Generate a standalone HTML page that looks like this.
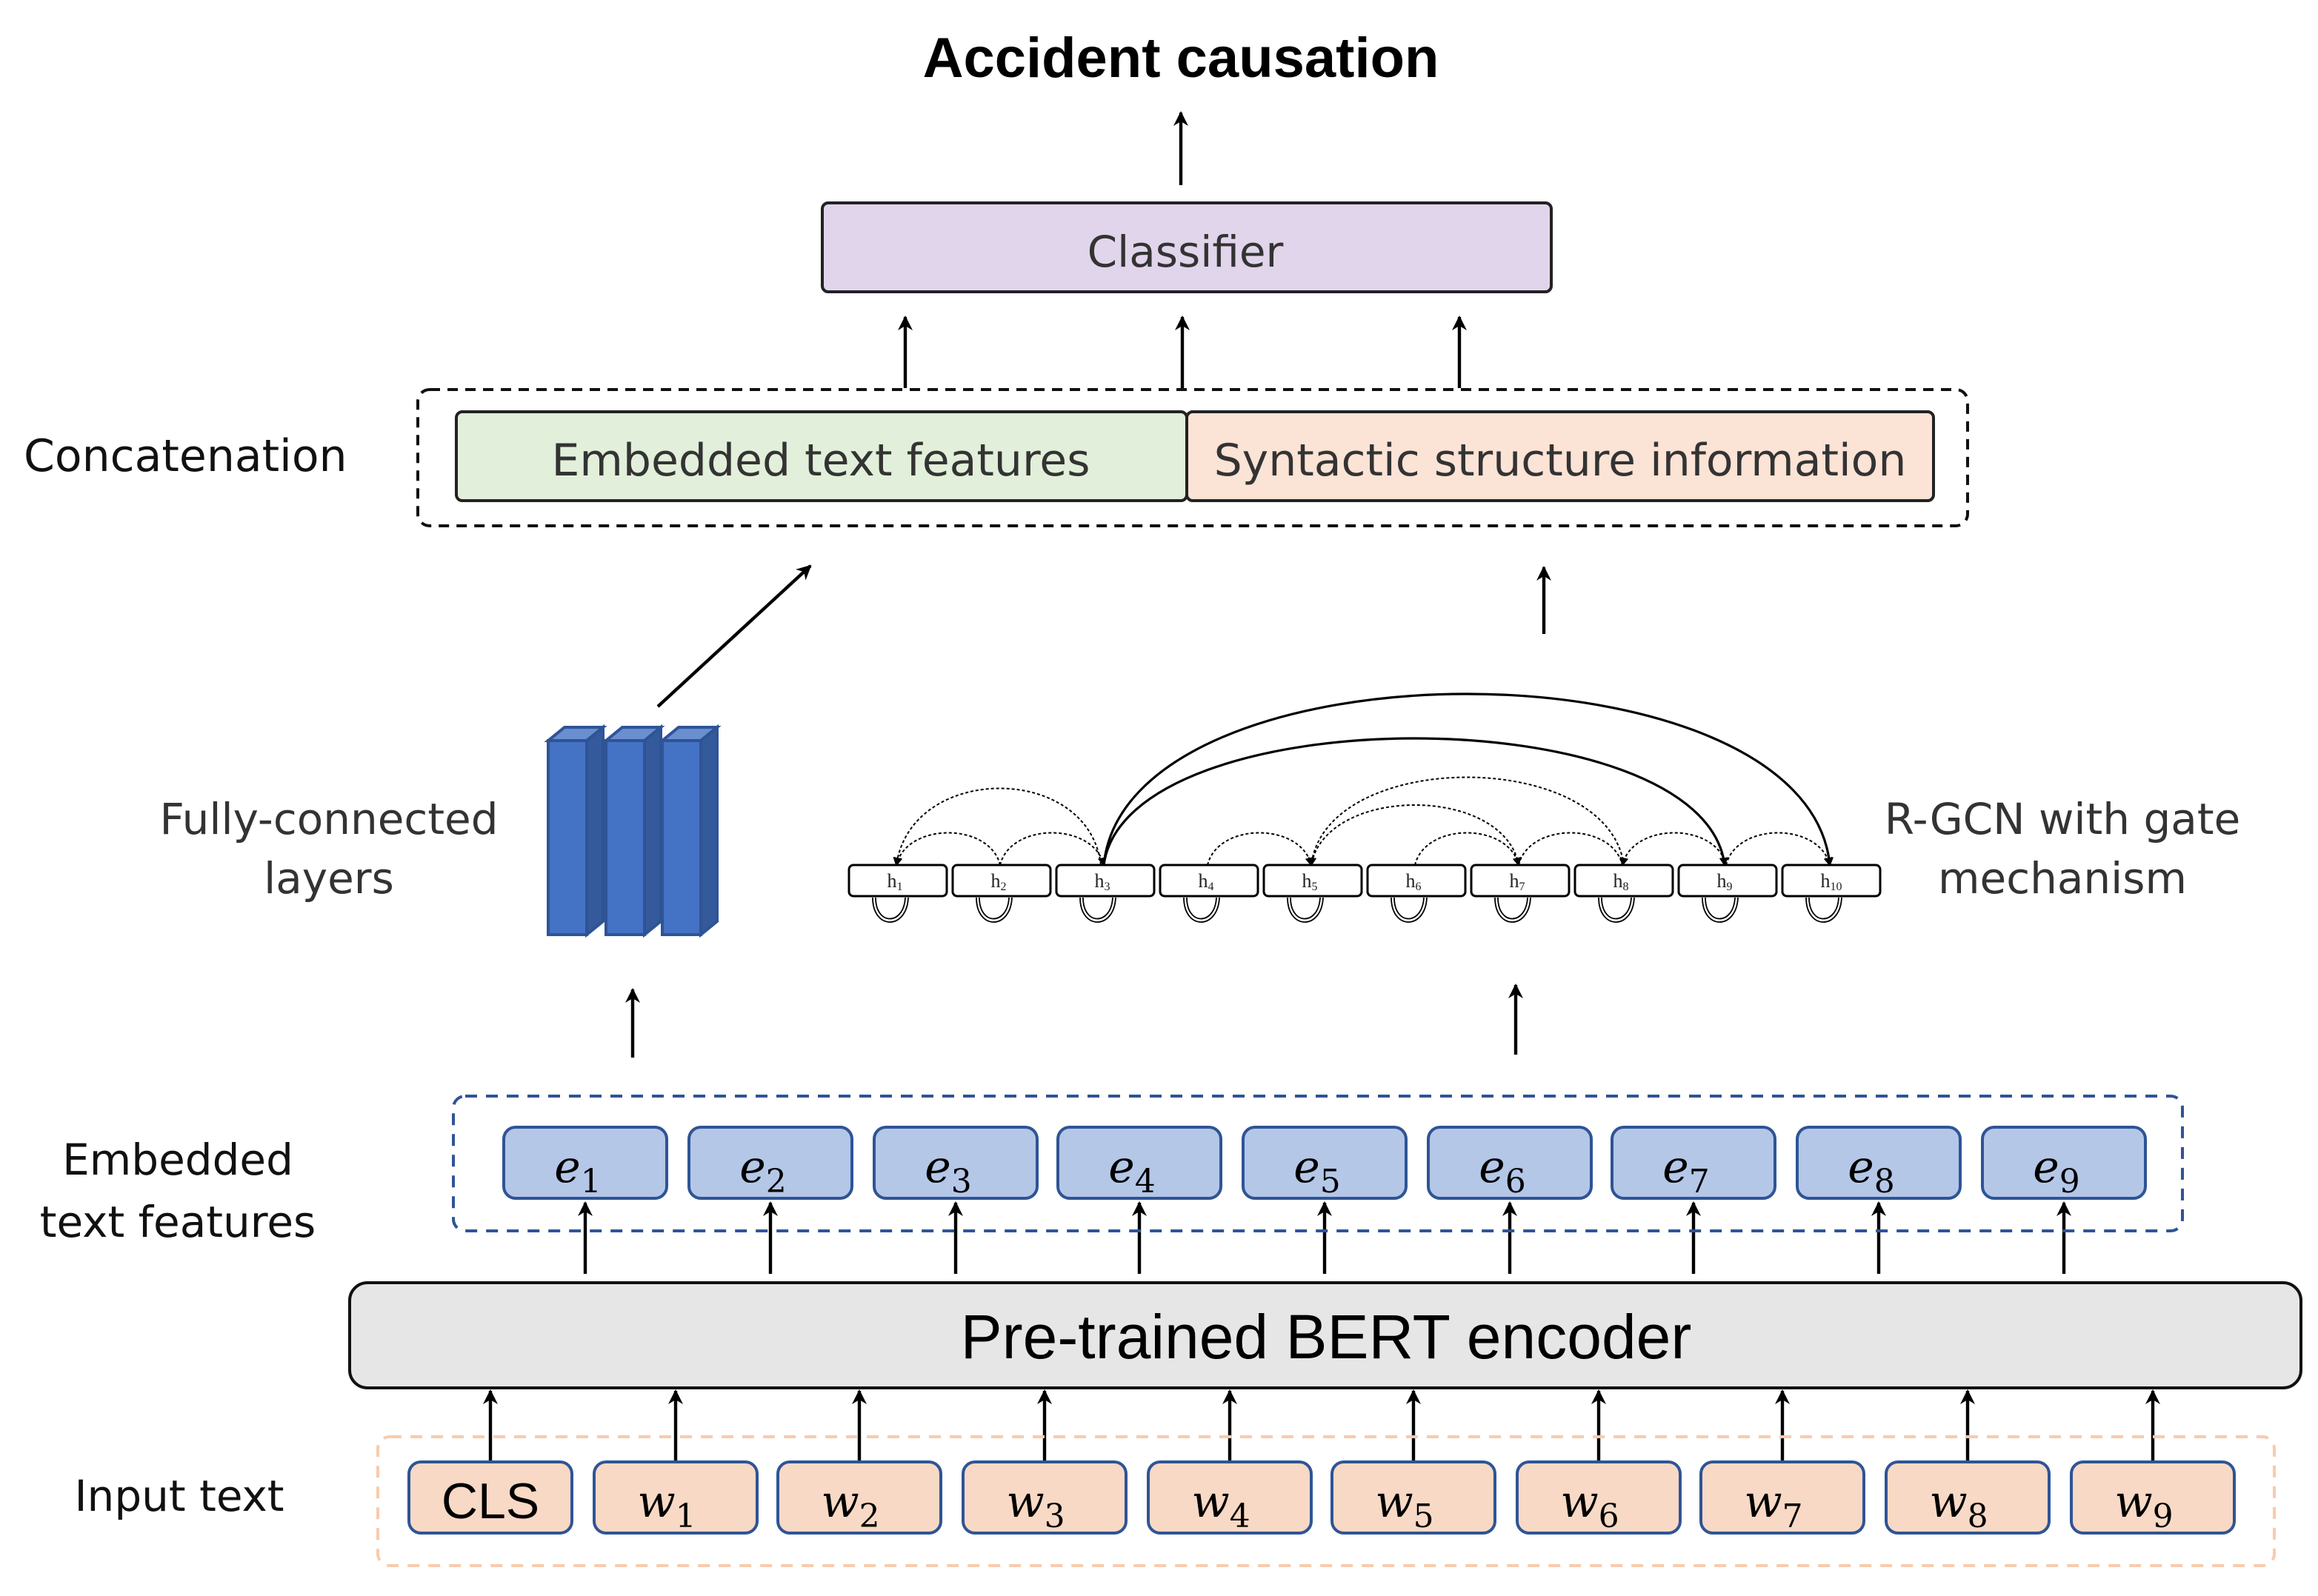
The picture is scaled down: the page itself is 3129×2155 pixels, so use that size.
<!DOCTYPE html>
<html><head><meta charset="utf-8"><style>html,body{margin:0;padding:0;background:#fff}svg{display:block}</style></head>
<body>
<svg width="3129" height="2155" viewBox="0 0 1564.5 1077.5" xmlns="http://www.w3.org/2000/svg" font-family="Liberation Sans, sans-serif">
<defs>
<marker id="a" markerWidth="10" markerHeight="10" refX="9" refY="5" orient="auto" markerUnits="userSpaceOnUse"><path d="M0,0 L10,5 L0,10 L3,5 z" fill="#000"/></marker>
<marker id="s" markerWidth="6" markerHeight="6" refX="5" refY="3" orient="auto" markerUnits="userSpaceOnUse"><path d="M0,0 L6,3 L0,6 z" fill="#000"/></marker>
</defs>
<g stroke="#000" stroke-width="2.2" marker-end="url(#a)" fill="none">
<line x1="797" y1="125" x2="797" y2="76"/>
<line x1="611" y1="262" x2="611" y2="214"/>
<line x1="798" y1="262" x2="798" y2="214"/>
<line x1="985" y1="262" x2="985" y2="214"/>
<line x1="444" y1="477" x2="547" y2="382"/>
<line x1="1042" y1="428" x2="1042" y2="383"/>
<line x1="427" y1="714" x2="427" y2="668"/>
<line x1="1023" y1="712" x2="1023" y2="665"/>
<line x1="395" y1="860" x2="395" y2="812"/><line x1="520" y1="860" x2="520" y2="812"/><line x1="645" y1="860" x2="645" y2="812"/><line x1="769" y1="860" x2="769" y2="812"/><line x1="894" y1="860" x2="894" y2="812"/><line x1="1019" y1="860" x2="1019" y2="812"/><line x1="1143" y1="860" x2="1143" y2="812"/><line x1="1268" y1="860" x2="1268" y2="812"/><line x1="1393" y1="860" x2="1393" y2="812"/>
<line x1="331" y1="987" x2="331" y2="939"/><line x1="456" y1="987" x2="456" y2="939"/><line x1="580" y1="987" x2="580" y2="939"/><line x1="705" y1="987" x2="705" y2="939"/><line x1="830" y1="987" x2="830" y2="939"/><line x1="954" y1="987" x2="954" y2="939"/><line x1="1079" y1="987" x2="1079" y2="939"/><line x1="1203" y1="987" x2="1203" y2="939"/><line x1="1328" y1="987" x2="1328" y2="939"/><line x1="1453" y1="987" x2="1453" y2="939"/>
</g>
<text x="797" y="52" font-size="38" font-weight="bold" text-anchor="middle">Accident causation</text>
<rect x="555" y="137" width="492" height="60" rx="4" fill="#e1d5eb" stroke="#222" stroke-width="2"/>
<text x="800" y="180" font-size="29" fill="#333" text-anchor="middle" font-family="DejaVu Sans, sans-serif">Classifier</text>
<rect x="282" y="263" width="1046" height="92" rx="8" fill="none" stroke="#111" stroke-width="2" stroke-dasharray="7,5"/>
<rect x="308" y="278" width="493" height="60" rx="4" fill="#e2efda" stroke="#222" stroke-width="2"/>
<rect x="801" y="278" width="504" height="60" rx="4" fill="#fbe3d6" stroke="#222" stroke-width="2"/>
<text x="554" y="321" font-size="30" fill="#333" text-anchor="middle" font-family="DejaVu Sans, sans-serif">Embedded text features</text>
<text x="1053" y="321" font-size="30" fill="#333" text-anchor="middle" font-family="DejaVu Sans, sans-serif">Syntactic structure information</text>
<text x="16" y="318" font-size="30" fill="#111" font-family="DejaVu Sans, sans-serif">Concatenation</text>
<g font-size="29" fill="#333" text-anchor="middle" font-family="DejaVu Sans, sans-serif">
<text x="222" y="563">Fully-connected</text><text x="222" y="603">layers</text>
<text x="1392" y="563">R-GCN with gate</text><text x="1392" y="603">mechanism</text>
</g>
<g stroke="#2f5496" stroke-width="2">
<g><polygon points="370,500 381,491 407,491 396,500" fill="#6a8fd0"/><polygon points="396,500 407,491 407,622 396,631" fill="#345a9c"/><rect x="370" y="500" width="26" height="131" fill="#4472c4"/></g>
<g><polygon points="409,500 420,491 446,491 435,500" fill="#6a8fd0"/><polygon points="435,500 446,491 446,622 435,631" fill="#345a9c"/><rect x="409" y="500" width="26" height="131" fill="#4472c4"/></g>
<g><polygon points="447,500 458,491 484,491 473,500" fill="#6a8fd0"/><polygon points="473,500 484,491 484,622 473,631" fill="#345a9c"/><rect x="447" y="500" width="26" height="131" fill="#4472c4"/></g>
</g>
<g fill="none" stroke="#000">
<path d="M745,584 C760,430 1220,430 1235,584" stroke-width="1.6" marker-end="url(#s)"/>
<path d="M745,584 C760,470 1150,470 1164,584" stroke-width="1.6" marker-end="url(#s)"/>
<g stroke-width="1" stroke-dasharray="2,1.5">
<path d="M743,584 C735,515 615,515 605,584" marker-end="url(#s)"/>
<path d="M675,584 C668,555 612,555 605,584" marker-end="url(#s)"/>
<path d="M675,584 C682,555 738,555 745,584" marker-end="url(#s)"/>
<path d="M815,584 C822,555 878,555 885,584" marker-end="url(#s)"/>
<path d="M1096,584 C1085,505 895,505 885,584" marker-end="url(#s)"/>
<path d="M955,584 C962,555 1018,555 1025,584" marker-end="url(#s)"/>
<path d="M1025,584 C1015,530 895,530 885,584" />
<path d="M1025,584 C1032,555 1088,555 1095,584" />
<path d="M1165,584 C1158,555 1102,555 1095,584" marker-end="url(#s)"/>
<path d="M1165,584 C1172,555 1228,555 1235,584" marker-end="url(#s)"/>
</g>
</g>
<g stroke="#000" stroke-width="1.5" fill="#fff">
<rect x="573" y="584" width="66" height="21" rx="3"/><rect x="643" y="584" width="66" height="21" rx="3"/><rect x="713" y="584" width="66" height="21" rx="3"/><rect x="783" y="584" width="66" height="21" rx="3"/><rect x="853" y="584" width="66" height="21" rx="3"/><rect x="923" y="584" width="66" height="21" rx="3"/><rect x="993" y="584" width="66" height="21" rx="3"/><rect x="1063" y="584" width="66" height="21" rx="3"/><rect x="1133" y="584" width="66" height="21" rx="3"/><rect x="1203" y="584" width="66" height="21" rx="3"/>
</g>
<g font-family="Liberation Serif, serif" font-size="13" fill="#222" text-anchor="middle">
<text x="604" y="599">h<tspan font-size="8" dy="2">1</tspan></text><text x="674" y="599">h<tspan font-size="8" dy="2">2</tspan></text><text x="744" y="599">h<tspan font-size="8" dy="2">3</tspan></text><text x="814" y="599">h<tspan font-size="8" dy="2">4</tspan></text><text x="884" y="599">h<tspan font-size="8" dy="2">5</tspan></text><text x="954" y="599">h<tspan font-size="8" dy="2">6</tspan></text><text x="1024" y="599">h<tspan font-size="8" dy="2">7</tspan></text><text x="1094" y="599">h<tspan font-size="8" dy="2">8</tspan></text><text x="1164" y="599">h<tspan font-size="8" dy="2">9</tspan></text><text x="1236" y="599">h<tspan font-size="8" dy="2">10</tspan></text>
</g>
<g fill="none" stroke="#000" stroke-width="0.9">
<path id="l" d="M589,606 C589,628 612,628 613,606 M591,606 C591,625 610,625 611,606"/>
<use href="#l" x="70"/><use href="#l" x="140"/><use href="#l" x="210"/><use href="#l" x="280"/><use href="#l" x="350"/><use href="#l" x="420"/><use href="#l" x="490"/><use href="#l" x="560"/><use href="#l" x="630"/>
</g>
<rect x="306" y="740" width="1167" height="91" rx="8" fill="none" stroke="#2f5496" stroke-width="2" stroke-dasharray="8,6"/>
<g fill="#b4c7e7" stroke="#2f5496" stroke-width="2">
<rect x="340" y="761" width="110" height="48" rx="8"/><rect x="465" y="761" width="110" height="48" rx="8"/><rect x="590" y="761" width="110" height="48" rx="8"/><rect x="714" y="761" width="110" height="48" rx="8"/><rect x="839" y="761" width="110" height="48" rx="8"/><rect x="964" y="761" width="110" height="48" rx="8"/><rect x="1088" y="761" width="110" height="48" rx="8"/><rect x="1213" y="761" width="110" height="48" rx="8"/><rect x="1338" y="761" width="110" height="48" rx="8"/>
</g>
<g font-family="DejaVu Serif, serif" font-style="italic" font-size="30" fill="#000" text-anchor="middle">
<text x="390" y="798">e<tspan font-style="normal" font-size="22" dy="7">1</tspan></text><text x="515" y="798">e<tspan font-style="normal" font-size="22" dy="7">2</tspan></text><text x="640" y="798">e<tspan font-style="normal" font-size="22" dy="7">3</tspan></text><text x="764" y="798">e<tspan font-style="normal" font-size="22" dy="7">4</tspan></text><text x="889" y="798">e<tspan font-style="normal" font-size="22" dy="7">5</tspan></text><text x="1014" y="798">e<tspan font-style="normal" font-size="22" dy="7">6</tspan></text><text x="1138" y="798">e<tspan font-style="normal" font-size="22" dy="7">7</tspan></text><text x="1263" y="798">e<tspan font-style="normal" font-size="22" dy="7">8</tspan></text><text x="1388" y="798">e<tspan font-style="normal" font-size="22" dy="7">9</tspan></text>
</g>
<g font-size="29" fill="#111" text-anchor="middle" font-family="DejaVu Sans, sans-serif">
<text x="120" y="793">Embedded</text><text x="120" y="835">text features</text>
<text x="121" y="1020">Input text</text>
</g>
<rect x="236" y="866" width="1317" height="71" rx="12" fill="#e6e6e6" stroke="#111" stroke-width="2"/>
<text x="895" y="917" font-size="42" text-anchor="middle" fill="#000">Pre-trained BERT encoder</text>
<rect x="255" y="970" width="1280" height="87" rx="8" fill="none" stroke="#f8cbad" stroke-width="2" stroke-dasharray="8,6"/>
<g fill="#f8d9c5" stroke="#2f5496" stroke-width="2">
<rect x="276" y="987" width="110" height="48" rx="8"/><rect x="401" y="987" width="110" height="48" rx="8"/><rect x="525" y="987" width="110" height="48" rx="8"/><rect x="650" y="987" width="110" height="48" rx="8"/><rect x="775" y="987" width="110" height="48" rx="8"/><rect x="899" y="987" width="110" height="48" rx="8"/><rect x="1024" y="987" width="110" height="48" rx="8"/><rect x="1148" y="987" width="110" height="48" rx="8"/><rect x="1273" y="987" width="110" height="48" rx="8"/><rect x="1398" y="987" width="110" height="48" rx="8"/>
</g>
<text x="331" y="1025" font-size="34" text-anchor="middle">CLS</text>
<g font-family="DejaVu Serif, serif" font-style="italic" font-size="30" fill="#000" text-anchor="middle">
<text x="450" y="1024">w<tspan font-style="normal" font-size="22" dy="7">1</tspan></text><text x="574" y="1024">w<tspan font-style="normal" font-size="22" dy="7">2</tspan></text><text x="699" y="1024">w<tspan font-style="normal" font-size="22" dy="7">3</tspan></text><text x="824" y="1024">w<tspan font-style="normal" font-size="22" dy="7">4</tspan></text><text x="948" y="1024">w<tspan font-style="normal" font-size="22" dy="7">5</tspan></text><text x="1073" y="1024">w<tspan font-style="normal" font-size="22" dy="7">6</tspan></text><text x="1197" y="1024">w<tspan font-style="normal" font-size="22" dy="7">7</tspan></text><text x="1322" y="1024">w<tspan font-style="normal" font-size="22" dy="7">8</tspan></text><text x="1447" y="1024">w<tspan font-style="normal" font-size="22" dy="7">9</tspan></text>
</g>
</svg>
</body></html>
